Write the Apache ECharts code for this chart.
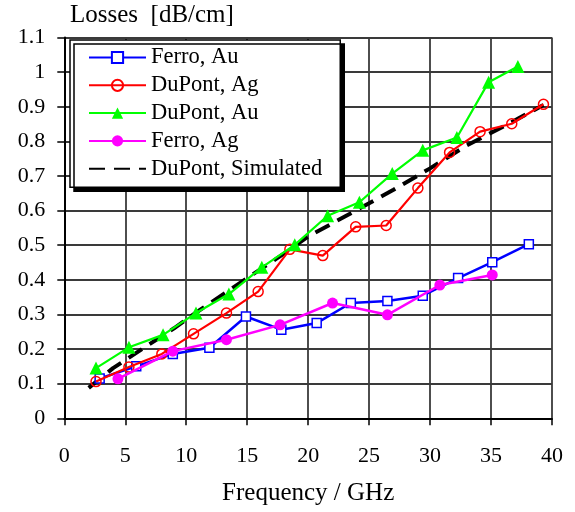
<!DOCTYPE html>
<html>
<head>
<meta charset="utf-8">
<script src="https://cdn.jsdelivr.net/npm/echarts@6/dist/echarts.min.js"></script>
<style>
html,body{margin:0;padding:0;background:#fff;}
#chart{width:575px;height:512px;}
</style>
</head>
<body>
<div id="chart"></div>
<script>
// Data (frequency in GHz, losses in dB/cm)
const xTicks = [0, 5, 10, 15, 20, 25, 30, 35, 40];
const yTicks = [0, 0.1, 0.2, 0.3, 0.4, 0.5, 0.6, 0.7, 0.8, 0.9, 1, 1.1];
const seriesNames = ['Ferro, Au', 'DuPont, Ag', 'DuPont, Au', 'Ferro, Ag', 'DuPont, Simulated'];

const ferroAu = [
  [2.9, 0.115], [5.9, 0.150], [8.9, 0.186], [11.9, 0.204], [14.9, 0.294],
  [17.8, 0.256], [20.7, 0.275], [23.5, 0.333], [26.5, 0.339], [29.4, 0.354],
  [32.3, 0.405], [35.1, 0.451], [38.1, 0.503]
];
const dupontAg = [
  [2.6, 0.106], [5.3, 0.148], [8.0, 0.186], [10.6, 0.244], [13.3, 0.304],
  [15.9, 0.366], [18.5, 0.488], [21.2, 0.470], [23.9, 0.553], [26.4, 0.557],
  [29.0, 0.665], [31.6, 0.768], [34.1, 0.828], [36.7, 0.851], [39.3, 0.907]
];
const dupontAu = [
  [2.6, 0.145], [5.3, 0.205], [8.1, 0.241], [10.8, 0.304], [13.5, 0.359],
  [16.2, 0.436], [18.9, 0.501], [21.6, 0.585], [24.2, 0.624], [26.9, 0.707],
  [29.4, 0.774], [32.2, 0.811], [34.8, 0.971], [37.2, 1.016]
];
const ferroAg = [
  [4.4, 0.114], [8.9, 0.194], [13.3, 0.227], [17.7, 0.270],
  [22.0, 0.333], [26.5, 0.299], [30.8, 0.385], [35.1, 0.414]
];
const dupontSim = [
  [2.0, 0.088], [4.0, 0.145], [6.5, 0.203], [9.0, 0.260], [11.0, 0.310],
  [15.0, 0.405], [18.2, 0.480], [20.0, 0.525], [24.0, 0.602], [27.0, 0.660],
  [30.0, 0.722], [33.0, 0.788], [35.7, 0.837], [39.3, 0.905]
];

const chart = echarts.init(document.getElementById('chart'), null, {renderer: 'canvas'});
const serif = '"Liberation Serif", "Times New Roman", serif';

const legendData = seriesNames.map(n => n === 'DuPont, Simulated'
  ? {name: n, itemStyle: {opacity: 0}}
  : {name: n});

const option = {
  backgroundColor: '#fff',
  animation: false,
  textStyle: {fontFamily: serif, color: '#000'},
  graphic: [{
    type: 'text',
    left: 70,
    top: 3,
    style: {text: 'Losses  [dB/cm]', font: '25px ' + serif, fill: '#000'}
  }],
  grid: {left: 64.3, right: 23, top: 37.5, bottom: 93.7, containLabel: false},
  legend: {
    data: legendData,
    orient: 'vertical',
    left: 70,
    top: 40,
    padding: [6, 18, 7, 18],
    itemWidth: 57,
    itemHeight: 14,
    itemGap: 4.8,
    backgroundColor: '#fff',
    borderColor: '#000',
    borderWidth: 1.5,
    shadowColor: '#000',
    shadowBlur: 0,
    shadowOffsetX: 4,
    shadowOffsetY: 4,
    textStyle: {fontFamily: serif, fontSize: 22.5, color: '#000', lineHeight: 22.5}
  },
  xAxis: {
    type: 'value',
    min: xTicks[0],
    max: xTicks[xTicks.length - 1],
    interval: 5,
    name: 'Frequency / GHz',
    nameLocation: 'middle',
    nameGap: 63,
    nameTextStyle: {fontFamily: serif, fontSize: 25, color: '#000'},
    axisLine: {show: true, onZero: false, lineStyle: {color: '#000', width: 2}},
    axisTick: {show: true, inside: false, length: 7, lineStyle: {color: '#000', width: 1.5}},
    axisLabel: {margin: 27, fontFamily: serif, fontSize: 22, color: '#000'},
    splitLine: {show: true, lineStyle: {color: '#3a3a3a', width: 1.8}}
  },
  yAxis: {
    type: 'value',
    min: yTicks[0],
    max: yTicks[yTicks.length - 1],
    interval: 0.1,
    axisLine: {show: true, onZero: false, lineStyle: {color: '#000', width: 2}},
    axisTick: {show: true, inside: false, length: 7, lineStyle: {color: '#000', width: 1.5}},
    axisLabel: {
      margin: 19, fontFamily: serif, fontSize: 22, color: '#000',
      formatter: v => String(Math.round(v * 10) / 10)
    },
    splitLine: {show: true, lineStyle: {color: '#3a3a3a', width: 1.8}}
  },
  series: [
    {
      name: 'DuPont, Simulated', type: 'line', data: dupontSim, z: 2,
      showSymbol: false, symbol: 'none', smooth: false,
      lineStyle: {color: '#000', width: 4, type: [16, 9]},
      itemStyle: {color: '#000'}
    },
    {
      name: 'Ferro, Au', type: 'line', data: ferroAu, z: 3,
      symbol: 'rect', symbolSize: 9,
      lineStyle: {color: '#0000ff', width: 2.5},
      itemStyle: {color: '#fff', borderColor: '#0000ff', borderWidth: 1.5}
    },
    {
      name: 'DuPont, Ag', type: 'line', data: dupontAg, z: 4,
      symbol: 'circle', symbolSize: 10,
      lineStyle: {color: '#ff0000', width: 2.2},
      itemStyle: {color: 'rgba(255,255,255,0)', borderColor: '#ff0000', borderWidth: 1.5}
    },
    {
      name: 'DuPont, Au', type: 'line', data: dupontAu, z: 5,
      symbol: 'triangle', symbolSize: 13,
      lineStyle: {color: '#00ff00', width: 2.2},
      itemStyle: {color: '#00ff00'}
    },
    {
      name: 'Ferro, Ag', type: 'line', data: ferroAg, z: 6,
      symbol: 'circle', symbolSize: 11,
      lineStyle: {color: '#ff00ff', width: 2.5},
      itemStyle: {color: '#ff00ff'}
    }
  ]
};
chart.setOption(option);
</script>
</body>
</html>
